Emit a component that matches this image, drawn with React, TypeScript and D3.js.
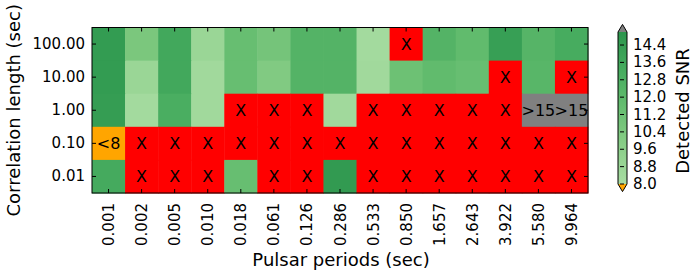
import React, { useEffect, useRef } from "react"
import * as d3 from "d3"

const periods = ["0.001", "0.002", "0.005", "0.010", "0.018", "0.061", "0.126", "0.286", "0.533", "0.850", "1.657", "2.643", "3.922", "5.580", "9.964"]
const corrLengths = ["100.00", "10.00", "1.00", "0.10", "0.01"]

// detected SNR per correlation length (null = not detected, drawn as X)
const snr100 = [14.5, 10.5, 13.5, 8.8, 11.5, 10.8, 12.5, 12.5, 8.3, null, 12.5, 11.8, 14.2, 12.4, 13.2]
const snr10 = [14.5, 8.8, 13.5, 8.4, 11.5, 10.2, 12.5, 12.5, 8.4, 11.2, 11.8, 11.5, null, 12.3, null]
const snr1 = [14.4, 8.3, 13.0, 8.4, null, null, null, 8.4, null, null, null, null, null, 15.5, 15.5]
const snr01 = [7.5, null, null, null, null, null, null, null, null, null, null, null, null, null, null]
const snr001 = [13.3, null, null, null, 11.5, null, null, 14.6, null, null, null, null, null, null, null]
const snrRows = [snr100, snr10, snr1, snr01, snr001]

const cbTicks = [8.0, 8.8, 9.6, 10.4, 11.2, 12.0, 12.8, 13.6, 14.4]

const App = () => {
  const ref = useRef(null)

  useEffect(() => {
    const svg = d3.select(ref.current)
    svg.selectAll("*").remove()

    const left = 92, right = 588, top = 27.5, bottom = 193
    const font = "DejaVu Sans, sans-serif"

    const x = d3.scaleBand().domain(periods).range([left, right])
    const y = d3.scaleBand().domain(corrLengths).range([top, bottom])
    const color = (v) => d3.interpolateGreens(0.35 + (v - 8) / 7 * 0.36)

    const cells = []
    snrRows.forEach((row, i) => {
      row.forEach((v, j) => cells.push({ c: corrLengths[i], p: periods[j], v: v }))
    })

    const fill = (d) => {
      if (d.v === null) return "red"
      if (d.v < 8) return "orange"
      if (d.v > 15) return "gray"
      return color(d.v)
    }
    const label = (d) => {
      if (d.v === null) return "X"
      if (d.v < 8) return "<8"
      if (d.v > 15) return ">15"
      return ""
    }

    svg.selectAll("rect.cell")
      .data(cells)
      .enter()
      .append("rect")
      .attr("class", "cell")
      .attr("x", d => x(d.p))
      .attr("y", d => y(d.c))
      .attr("width", x.bandwidth() + 0.5)
      .attr("height", y.bandwidth() + 0.5)
      .attr("fill", fill)

    svg.selectAll("text.cell")
      .data(cells.filter(d => label(d) !== ""))
      .enter()
      .append("text")
      .attr("x", d => x(d.p) + x.bandwidth() / 2)
      .attr("y", d => y(d.c) + y.bandwidth() / 2)
      .attr("text-anchor", "middle")
      .attr("dominant-baseline", "central")
      .attr("font-family", font)
      .attr("font-size", 16)
      .text(label)

    svg.append("rect")
      .attr("x", left).attr("y", top)
      .attr("width", right - left).attr("height", bottom - top)
      .attr("fill", "none").attr("stroke", "black").attr("stroke-width", 1)

    // ticks inward on all four sides
    const tk = 4
    periods.forEach(p => {
      const cx = x(p) + x.bandwidth() / 2
      svg.append("line").attr("x1", cx).attr("x2", cx).attr("y1", top).attr("y2", top + tk).attr("stroke", "black")
      svg.append("line").attr("x1", cx).attr("x2", cx).attr("y1", bottom).attr("y2", bottom - tk).attr("stroke", "black")
      svg.append("text")
        .attr("transform", "translate(" + (cx + 5.5) + "," + (bottom + 10) + ") rotate(-90)")
        .attr("text-anchor", "end")
        .attr("font-family", font)
        .attr("font-size", 15)
        .text(p)
    })
    corrLengths.forEach(c => {
      const cy = y(c) + y.bandwidth() / 2
      svg.append("line").attr("x1", left).attr("x2", left + tk).attr("y1", cy).attr("y2", cy).attr("stroke", "black")
      svg.append("line").attr("x1", right).attr("x2", right - tk).attr("y1", cy).attr("y2", cy).attr("stroke", "black")
      svg.append("text")
        .attr("x", left - 7).attr("y", cy)
        .attr("text-anchor", "end")
        .attr("dominant-baseline", "central")
        .attr("font-family", font)
        .attr("font-size", 15)
        .text(c)
    })

    svg.append("text")
      .attr("x", (left + right) / 2 + 1).attr("y", 266)
      .attr("text-anchor", "middle")
      .attr("font-family", font).attr("font-size", 18)
      .text("Pulsar periods (sec)")
    svg.append("text")
      .attr("transform", "translate(19.5," + (top + bottom) / 2 + ") rotate(-90)")
      .attr("text-anchor", "middle")
      .attr("font-family", font).attr("font-size", 18)
      .text("Correlation length (sec)")

    // colorbar with extensions
    const cbx = 618, cbw = 9, cbTop = 32, cbBottom = 184, ext = 7.6
    const cb = d3.scaleLinear().domain([8, 15]).range([cbBottom, cbTop])
    const defs = svg.append("defs")
    const grad = defs.append("linearGradient").attr("id", "cbgrad").attr("x1", 0).attr("x2", 0).attr("y1", 1).attr("y2", 0)
    d3.range(0, 1.0001, 0.1).forEach(t => {
      grad.append("stop").attr("offset", t).attr("stop-color", color(8 + t * 7))
    })
    svg.append("rect")
      .attr("x", cbx).attr("y", cb(15))
      .attr("width", cbw).attr("height", cb(8) - cb(15))
      .attr("fill", "url(#cbgrad)")
    svg.append("path")
      .attr("d", `M${cbx},${cb(15)}L${cbx + cbw / 2},${cb(15) - ext}L${cbx + cbw},${cb(15)}Z`)
      .attr("fill", "gray")
    svg.append("path")
      .attr("d", `M${cbx},${cb(8)}L${cbx + cbw / 2},${cb(8) + ext}L${cbx + cbw},${cb(8)}Z`)
      .attr("fill", "orange")
    svg.append("path")
      .attr("d", `M${cbx},${cb(15)}L${cbx + cbw / 2},${cb(15) - ext}L${cbx + cbw},${cb(15)}L${cbx + cbw},${cb(8)}L${cbx + cbw / 2},${cb(8) + ext}L${cbx},${cb(8)}Z`)
      .attr("fill", "none").attr("stroke", "black").attr("stroke-width", 1)
    cbTicks.forEach(t => {
      svg.append("line")
        .attr("x1", cbx + 2).attr("x2", cbx + 6)
        .attr("y1", cb(t)).attr("y2", cb(t))
        .attr("stroke", "black")
      svg.append("text")
        .attr("x", cbx + cbw + 6).attr("y", cb(t))
        .attr("dominant-baseline", "central")
        .attr("font-family", font).attr("font-size", 15)
        .text(t.toFixed(1))
    })
    svg.append("text")
      .attr("transform", "translate(682," + 111 + ") rotate(-90)")
      .attr("text-anchor", "middle")
      .attr("dominant-baseline", "central")
      .attr("font-family", font).attr("font-size", 18)
      .text("Detected SNR")
  }, [])

  return (
    <svg ref={ref} width={693} height={275} style={{ position: "absolute", left: 0, top: 0, background: "white" }} />
  )
}

export default App
